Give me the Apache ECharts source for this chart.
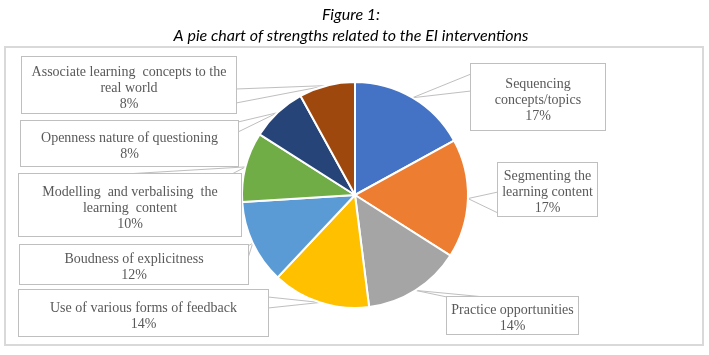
<!DOCTYPE html>
<html>
<head>
<meta charset="utf-8">
<script src="https://cdn.jsdelivr.net/npm/echarts@6/dist/echarts.min.js"></script>
<style>
  html, body { margin: 0; padding: 0; background: #fff; }
</style>
</head>
<body>
<div id="PieChart" style="width: 709px; height: 355px;"></div>
<script>
// categories (line breaks as in the original callouts)
const categories = [
  'Sequencing\nconcepts/topics',
  'Segmenting the\nlearning content',
  'Practice opportunities',
  'Use of various forms of feedback',
  'Boudness of explicitness',
  'Modelling  and verbalising  the\nlearning  content',
  'Openness nature of questioning',
  'Associate learning  concepts to the\nreal world'
];
// percentages
const values = [17, 17, 14, 14, 12, 10, 8, 8];
const colors = ['#4472C4', '#ED7D31', '#A5A5A5', '#FFC000', '#5B9BD5', '#70AD47', '#264478', '#9E480E'];

// callout boxes: [x, y, w, h] and wedge base points [ax, ay, bx, by]
const boxes = [
  [471, 64, 134, 66], [498, 163, 99, 52], [447, 297, 131, 36], [19, 290, 249, 46],
  [20, 245, 228, 39], [19, 174, 222, 62], [21, 121, 217, 45], [22, 57, 214, 56]
];
const wedges = [
  [471, 74, 471, 91], [498, 192, 498, 213], [447, 297, 485, 297], [268, 297, 268, 308],
  [248, 246, 248, 258], [125, 174, 232, 174], [238, 122, 238, 132], [236, 89, 236, 103]
];
const LINE_H = 16;

const chart = echarts.init(document.getElementById('PieChart'));

const data = categories.map((name, i) => {
  const b = boxes[i];
  const lines = name.split('\n').length + 1;
  const pv = (b[3] - lines * LINE_H) / 2;
  // text sits a little low in the original boxes
  const top = pv + 3;
  const bottom = Math.max(pv - 3, 0);
  return {
    name: name,
    value: values[i],
    itemStyle: { color: colors[i] },
    label: { width: b[2], padding: [top, 0, bottom, 0] }
  };
});

const option = {
  backgroundColor: '#fff',
  animation: false,
  title: {
    text: 'Figure 1:\nA pie chart of strengths related to the EI interventions',
    left: 351,
    top: 4,
    padding: 0,
    textAlign: 'center',
    textStyle: {
      fontFamily: 'Lato',
      fontStyle: 'italic',
      fontWeight: 'normal',
      fontSize: 16,
      lineHeight: 21,
      color: '#000'
    }
  },
  graphic: [{
    type: 'rect',
    shape: { x: 5, y: 47, width: 698, height: 298 },
    style: { fill: 'none', stroke: '#d9d9d9', lineWidth: 2 },
    z: -1
  }],
  series: [{
    type: 'pie',
    center: [355, 195],
    radius: 113,
    startAngle: 90,
    clockwise: true,
    data: data,
    itemStyle: { borderColor: '#fff', borderWidth: 2 },
    label: {
      show: true,
      position: 'outside',
      formatter: '{b}\n{c}%',
      fontFamily: 'Liberation Serif',
      fontSize: 14,
      lineHeight: LINE_H,
      color: '#595959',
      backgroundColor: '#fff',
      borderColor: '#bfbfbf',
      borderWidth: 1
    },
    labelLine: {
      show: true,
      lineStyle: { color: '#bfbfbf', width: 1 }
    },
    labelLayout: function (params) {
      const i = params.dataIndex;
      const b = boxes[i];
      const w = wedges[i];
      const tip = params.labelLinePoints[0];
      return {
        x: b[0] + b[2] / 2,
        y: b[1],
        align: 'center',
        verticalAlign: 'top',
        labelLinePoints: [[w[0], w[1]], tip, [w[2], w[3]]]
      };
    }
  }]
};
chart.setOption(option);
</script>
</body>
</html>
